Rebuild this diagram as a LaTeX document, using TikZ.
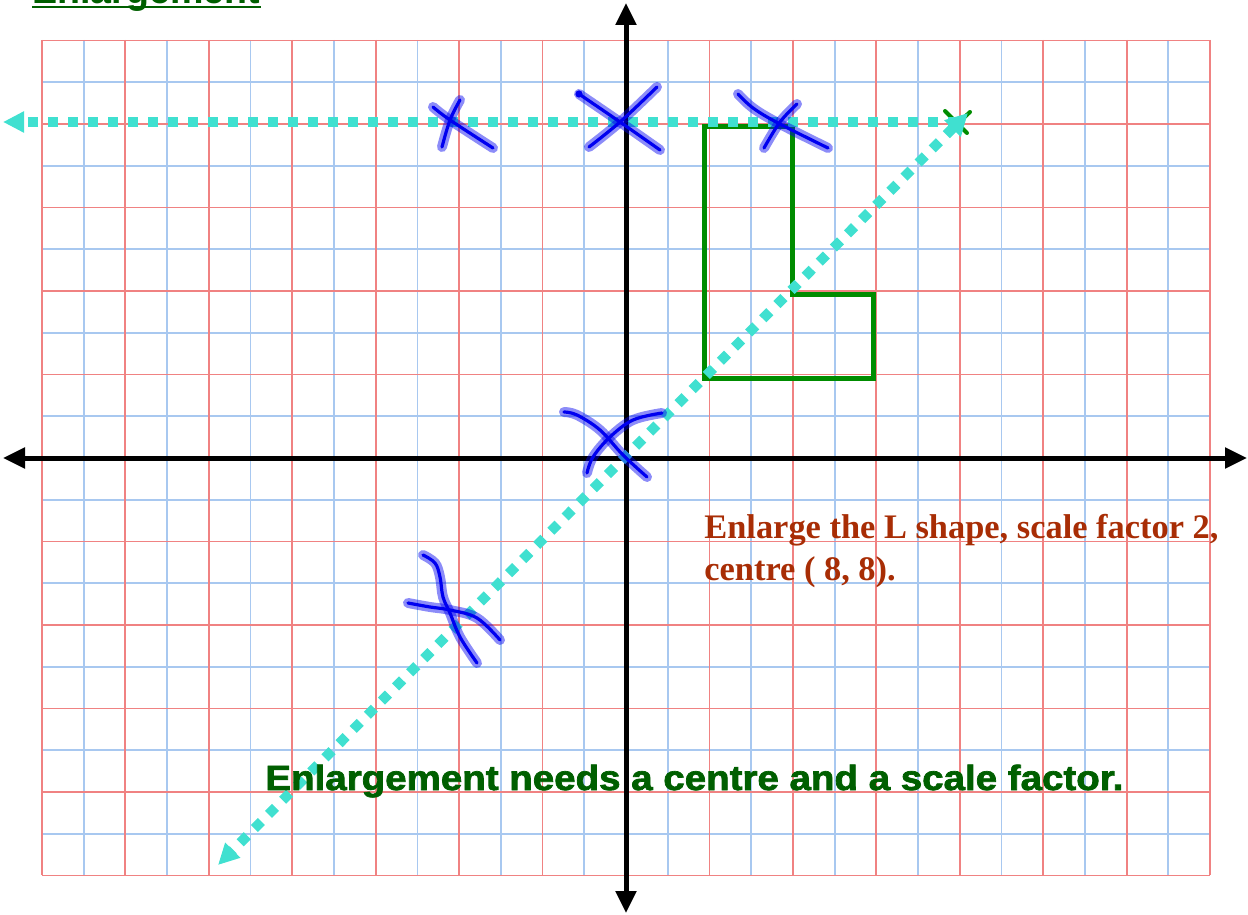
\documentclass[tikz,border=0pt]{standalone}
\usepackage{fontspec}
\setmainfont{Liberation Sans}
\newfontfamily\serifbf{Liberation Serif}
\newfontfamily\heavyfont[FakeBold=2]{Liberation Sans}
\usetikzlibrary{arrows.meta}
\definecolor{gridred}{RGB}{240,130,130}
\definecolor{gridblue}{RGB}{168,200,240}
\definecolor{turq}{RGB}{64,224,208}
\definecolor{lgreen}{RGB}{0,140,0}
\definecolor{dgreen}{RGB}{0,95,0}
\definecolor{rust}{RGB}{168,45,5}
\definecolor{ink}{RGB}{0,0,240}
\tikzset{
  redline/.style={draw=gridred, line width=0.9pt},
  blueline/.style={draw=gridblue, line width=0.9pt},
  axis/.style={draw=black, line width=2.5pt, {Triangle[length=11pt,width=10pt]}-{Triangle[length=11pt,width=10pt]}},
  lshape/.style={draw=lgreen, line width=2.5pt, line join=miter},
  cyanline/.style={draw=turq, line width=5pt, dash pattern=on 5pt off 5pt},
  halo/.style={draw=ink, draw opacity=0.45, line width=5pt, line cap=round, line join=round},
  inkline/.style={draw=ink, line width=1.6pt, line cap=round, line join=round},
}
\newcommand\penstroke[1]{\draw[halo] plot[smooth, tension=0.6] coordinates {#1};\draw[inkline] plot[smooth, tension=0.6] coordinates {#1};}
\begin{document}
\begin{tikzpicture}[x=0.5pt,y=-0.5pt]
\useasboundingbox (0,0) rectangle (1248,915);
% grid
\foreach \i in {-13,-11,...,13} \draw[blueline] ({626+41.72*\i},40) -- ({626+41.72*\i},875);
\foreach \j in {-9,-7,...,9} \draw[blueline] (42,{458+41.75*\j}) -- (1210,{458+41.75*\j});
\foreach \i in {-14,-12,...,14} \draw[redline] ({626+41.72*\i},40) -- ({626+41.72*\i},875);
\foreach \j in {-10,-8,...,10} \draw[redline] (42,{458+41.75*\j}) -- (1210,{458+41.75*\j});
% title
\node[anchor=base west, inner sep=0pt, text=dgreen, font=\fontsize{18.8}{20}\selectfont\bfseries] (title) at (32,3.5) {Enlargement};
\draw[dgreen, line width=1.2pt] ([yshift=-1.8pt]title.base west) -- ([yshift=-1.8pt]title.base east);
% axes
\coordinate (xl) at (3,458);
\coordinate (xr) at (1247,458);
\coordinate (yt) at (626,3);
\coordinate (yb) at (626,913);
\draw[axis] (xl) -- (xr);
\draw[axis] (yt) -- (yb);
% L shape
\draw[lshape] (704,127) -- (704,378) -- (873,378) -- (873,294) -- (792,294) -- (792,127) -- cycle;
% green mark at centre
\draw[lgreen, line width=2pt, line cap=round] (945,111) -- (967,133);
\draw[lgreen, line width=2pt, line cap=round] (970,112) -- (955,126);
% cyan lines
\coordinate (c8) at (958,122);
\coordinate (hl) at (3,122);
\coordinate (dtop) at (968,113);
\coordinate (dbot) at (218,865);
\draw[cyanline, -{Triangle[length=10.5pt,width=10pt]}] (c8) -- (hl);
\draw[cyanline, {Triangle[length=11pt,width=11pt]}-{Triangle[length=10.5pt,width=10pt]}] (dtop) -- (dbot);
% crosses
\penstroke{(433,107) (450,120) (493,148)}
\penstroke{(460,100) (450,120) (442,147)}
\penstroke{(579,94) (620,122) (660,150)}
\penstroke{(657,87) (620,122) (589,147)}
\fill[ink] (579,94) circle[radius=1.8pt];
\penstroke{(738,94) (753,108) (778,123) (828,148)}
\penstroke{(797,104) (780,122) (764,148)}
\penstroke{(564,412) (577,415) (600,430) (623,455) (647,477)}
\penstroke{(587,473) (593,457) (610,437) (633,420) (662,413)}
\penstroke{(423,555) (435,563) (440,577) (443,597) (450,613) (460,637) (477,663)}
\penstroke{(408,603) (430,607) (450,610) (477,618) (500,640)}
% texts
\node[anchor=base west, inner sep=0pt, align=left, text=rust, font=\serifbf\bfseries\fontsize{17.2}{21}\selectfont] (task) at (704,580) {Enlarge the L shape, scale factor 2,\\centre ( 8, 8).};
\node[anchor=base west, inner sep=0pt, text=dgreen, font=\heavyfont\bfseries\fontsize{17.5}{19}\selectfont] (rule) at (265,790) {\scalebox{1.1}[1]{Enlargement needs a centre and a scale factor.}};
\end{tikzpicture}
\end{document}
